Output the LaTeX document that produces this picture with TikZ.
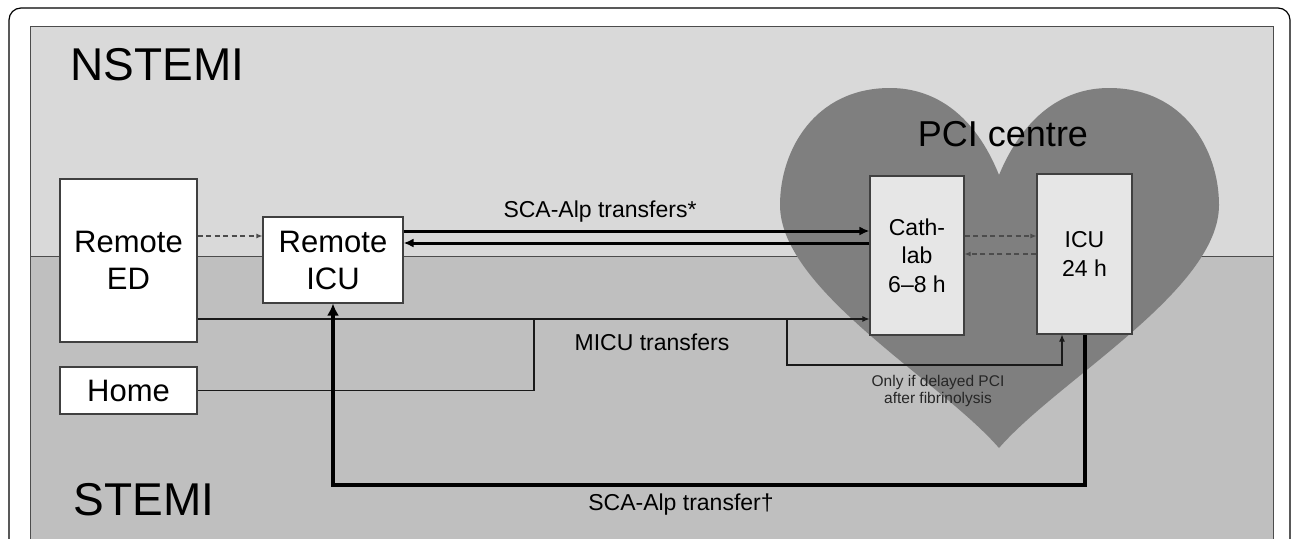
\documentclass[tikz,border=0pt]{standalone}
\usepackage{fontspec}
\setmainfont{Liberation Sans}
\usetikzlibrary{arrows.meta}

\definecolor{nstemigray}{HTML}{D9D9D9}
\definecolor{stemigray}{HTML}{BFBFBF}
\definecolor{heartgray}{HTML}{7F7F7F}
\definecolor{unitgray}{HTML}{E6E6E6}

\begin{document}
\begin{tikzpicture}[x=1pt,y=-1pt,
  box/.style={draw=black!75,line width=1.1pt,fill=white,align=center,inner sep=0pt,
    font=\fontsize{31}{37}\selectfont},
  unitbox/.style={box,fill=unitgray,font=\fontsize{23}{28.5}\selectfont},
  flowtext/.style={font=\fontsize{23}{27}\selectfont},
  bigtext/.style={anchor=base west,font=\fontsize{46}{50}\selectfont},
  road/.style={draw=black!90,line width=1.1pt},
  maybe/.style={draw=black!70,line width=1.1pt,dash pattern=on 5pt off 3.5pt,-{Latex[length=6pt,width=5pt]}},
  heli/.style={line width=3pt,-{Latex[length=10pt,width=9pt]}},
  heavy/.style={line width=4pt,-{Latex[length=12pt,width=12pt]}}]

\useasboundingbox (0,0) rectangle (1292,538);

% frame and the two zones
\draw[line width=1.2pt,rounded corners=12pt] (9,545) -- (9,8) -- (1290,8) -- (1290,545);
\filldraw[fill=nstemigray,draw=black!70,line width=1pt] (30,26) rectangle (1273,256);
\filldraw[fill=stemigray,draw=black!70,line width=1pt] (30,256) rectangle (1273,545);

% heart behind the PCI centre
\fill[heartgray] (999,175) .. controls (975,115) and (935,88) .. (890,88)
  .. controls (815,88) and (780,150) .. (780,205)
  .. controls (780,290) and (940,380) .. (999,448)
  .. controls (1058,380) and (1219,290) .. (1219,205)
  .. controls (1219,150) and (1184,88) .. (1109,88)
  .. controls (1064,88) and (1024,115) .. (999,175) -- cycle;

\node[bigtext] (nstemi) at (67,80) {NSTEMI};
\node[bigtext] (stemi) at (70,515) {STEMI};
\node[font=\fontsize{36}{40}\selectfont] (pci) at (1003,134) {PCI centre};

\node[box,minimum width=137pt,minimum height=163pt] (ed) at (128.5,260.5) {Remote\\ED};
\node[box,minimum width=140pt,minimum height=86pt] (ricu) at (333,260) {Remote\\ICU};
\node[box,minimum width=137pt,minimum height=47pt] (home) at (128.5,390.5) {Home};
\node[unitbox,minimum width=94pt,minimum height=159pt] (cath) at (917,255.5) {Cath-\\lab\\6--8 h};
\node[unitbox,minimum width=95pt,minimum height=160pt] (icu) at (1084.5,254) {ICU\\24 h};

% ground transfers
\coordinate (join) at (534,319);
\coordinate (split) at (787,319);
\coordinate (elbow) at (1062,365);
\draw[road,-{Latex[length=7pt,width=6pt]}] (ed.east |- 0,319) -- (cath.west |- 0,319);
\draw[road] (home.east) -| (join);
\draw[road,-{Latex[length=7pt,width=6pt]}] (split) |- (elbow) -- (elbow |- icu.south);

% dashed moves
\draw[maybe] (ed.east |- 0,236) -- (ricu.west |- 0,236);
\draw[maybe] (cath.east |- 0,236) -- (icu.west |- 0,236);
\draw[maybe] (icu.west |- 0,254) -- (cath.east |- 0,254);

% helicopter transfers
\draw[heli] (ricu.east |- 0,231) -- (cath.west |- 0,231);
\draw[heli] (cath.west |- 0,243) -- (ricu.east |- 0,243);
\draw[heavy] (icu.south) -- (icu.south |- 0,485) -| (ricu.south);

\node[flowtext] (scaup) at (600,212) {SCA-Alp transfers*};
\node[flowtext] (micu) at (652,342) {MICU transfers};
\node[flowtext] (scaback) at (681,505) {SCA-Alp transfer†};
\node[align=center,text=black!85,font=\fontsize{15.5}{17}\selectfont] (delay) at (938,391)
  {Only if delayed PCI\\after fibrinolysis};

\end{tikzpicture}
\end{document}
